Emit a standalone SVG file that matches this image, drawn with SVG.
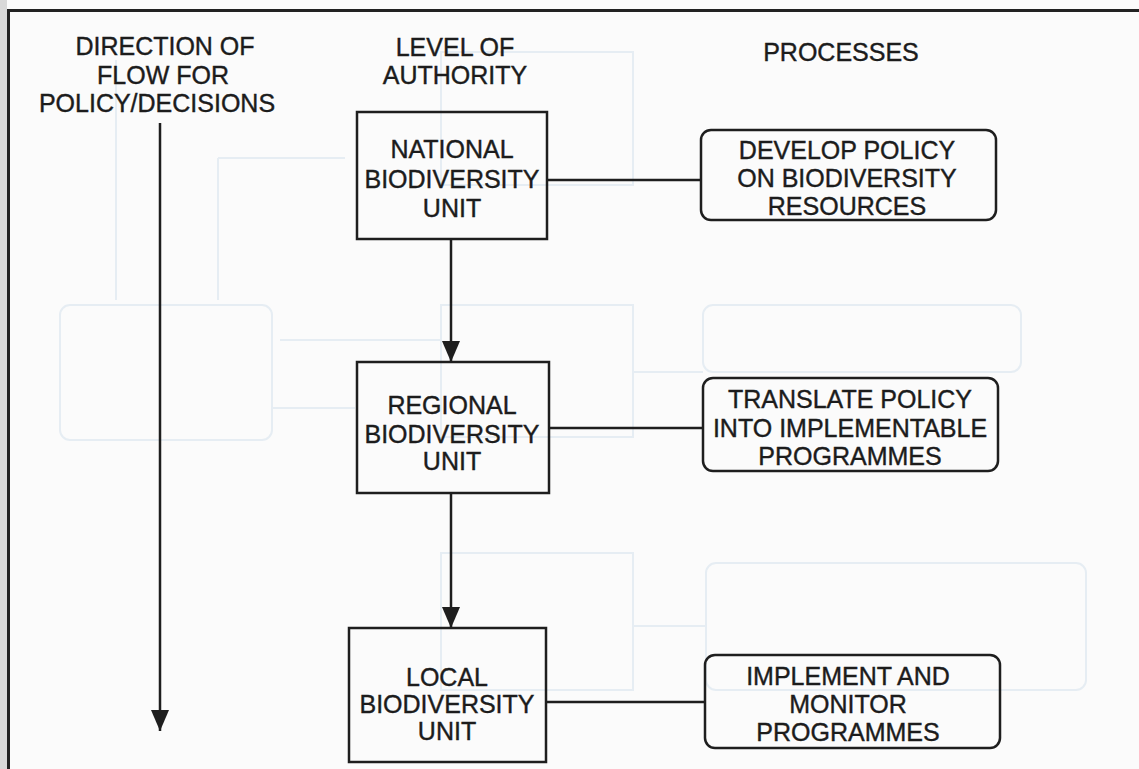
<svg xmlns="http://www.w3.org/2000/svg" width="1139" height="769" viewBox="0 0 1139 769">
  <style>
    .t { font-family: "Liberation Sans", Arial, sans-serif; font-size: 25px; fill: #1c1c1c; stroke: #1c1c1c; stroke-width: 0.4; text-anchor: middle; }
    .box { fill: none; stroke: #1e1e1e; stroke-width: 2.5; }
    .wire { fill: none; stroke: #1e1e1e; stroke-width: 2.5; }
    .ghost { fill: none; stroke: #e6edf3; stroke-width: 2; }
  </style>
  <defs>
    <marker id="head" markerUnits="userSpaceOnUse" markerWidth="22" markerHeight="18" viewBox="0 0 22 18" refX="21" refY="9" orient="auto">
      <path d="M0,0 L21,9 L0,18 Z" fill="#1e1e1e"/>
    </marker>
  </defs>

  <!-- paper -->
  <rect x="0" y="0" width="1139" height="769" fill="#fbfbfb"/>
  <rect x="0" y="0" width="7" height="769" fill="#d9d9d9"/>

  <!-- faint show-through of the facing page's outlines -->
  <g id="show-through">
    <path class="ghost" d="M116,60 V300 M218,158 V300 M218,158 H345 M280,340 H440 M272,408 H355 M633,372 H703 M633,626 H706"/>
    <rect class="ghost" x="441" y="52" width="192" height="133"/>
    <rect class="ghost" x="60" y="305" width="212" height="135" rx="10"/>
    <rect class="ghost" x="441" y="305" width="192" height="132"/>
    <rect class="ghost" x="703" y="305" width="318" height="67" rx="10"/>
    <rect class="ghost" x="441" y="553" width="192" height="137"/>
    <rect class="ghost" x="706" y="563" width="380" height="127" rx="10"/>
  </g>

  <!-- page frame -->
  <path d="M8.5,769 V10.5 H1139" fill="none" stroke="#222" stroke-width="3"/>

  <!-- column headings -->
  <g id="heading-flow">
    <text class="t" x="165" y="55">DIRECTION OF</text>
    <text class="t" x="163" y="84">FLOW FOR</text>
    <text class="t" x="157" y="112">POLICY/DECISIONS</text>
  </g>
  <g id="heading-authority">
    <text class="t" x="455" y="56">LEVEL OF</text>
    <text class="t" x="455" y="84">AUTHORITY</text>
  </g>
  <g id="heading-processes">
    <text class="t" x="841" y="61">PROCESSES</text>
  </g>

  <!-- connectors -->
  <g id="connectors">
    <line class="wire" x1="160" y1="123" x2="160" y2="731" marker-end="url(#head)"/>
    <line class="wire" x1="451" y1="239" x2="451" y2="362" marker-end="url(#head)"/>
    <line class="wire" x1="451" y1="493" x2="451" y2="628" marker-end="url(#head)"/>
    <line class="wire" x1="547" y1="180" x2="701" y2="180"/>
    <line class="wire" x1="549" y1="428" x2="703" y2="428"/>
    <line class="wire" x1="546" y1="702" x2="705" y2="702"/>
  </g>

  <!-- authority units -->
  <g id="national-unit">
    <rect class="box" x="357" y="112" width="190" height="127"/>
    <text class="t" x="452" y="158">NATIONAL</text>
    <text class="t" x="452" y="188">BIODIVERSITY</text>
    <text class="t" x="452" y="217">UNIT</text>
  </g>
  <g id="regional-unit">
    <rect class="box" x="357" y="362" width="192" height="131"/>
    <text class="t" x="452" y="414">REGIONAL</text>
    <text class="t" x="452" y="443">BIODIVERSITY</text>
    <text class="t" x="452" y="470">UNIT</text>
  </g>
  <g id="local-unit">
    <rect class="box" x="349" y="628" width="197" height="134"/>
    <text class="t" x="447" y="686">LOCAL</text>
    <text class="t" x="447" y="713">BIODIVERSITY</text>
    <text class="t" x="447" y="740">UNIT</text>
  </g>

  <!-- processes -->
  <g id="develop-policy">
    <rect class="box" x="701" y="130" width="295" height="90" rx="10"/>
    <text class="t" x="847" y="159">DEVELOP POLICY</text>
    <text class="t" x="847" y="187">ON BIODIVERSITY</text>
    <text class="t" x="847" y="215">RESOURCES</text>
  </g>
  <g id="translate-policy">
    <rect class="box" x="703" y="378" width="295" height="93" rx="10"/>
    <text class="t" x="850" y="408">TRANSLATE POLICY</text>
    <text class="t" x="850" y="437">INTO IMPLEMENTABLE</text>
    <text class="t" x="850" y="465">PROGRAMMES</text>
  </g>
  <g id="implement-monitor">
    <rect class="box" x="705" y="655" width="295" height="93" rx="10"/>
    <text class="t" x="848" y="685">IMPLEMENT AND</text>
    <text class="t" x="848" y="713">MONITOR</text>
    <text class="t" x="848" y="741">PROGRAMMES</text>
  </g>
</svg>
